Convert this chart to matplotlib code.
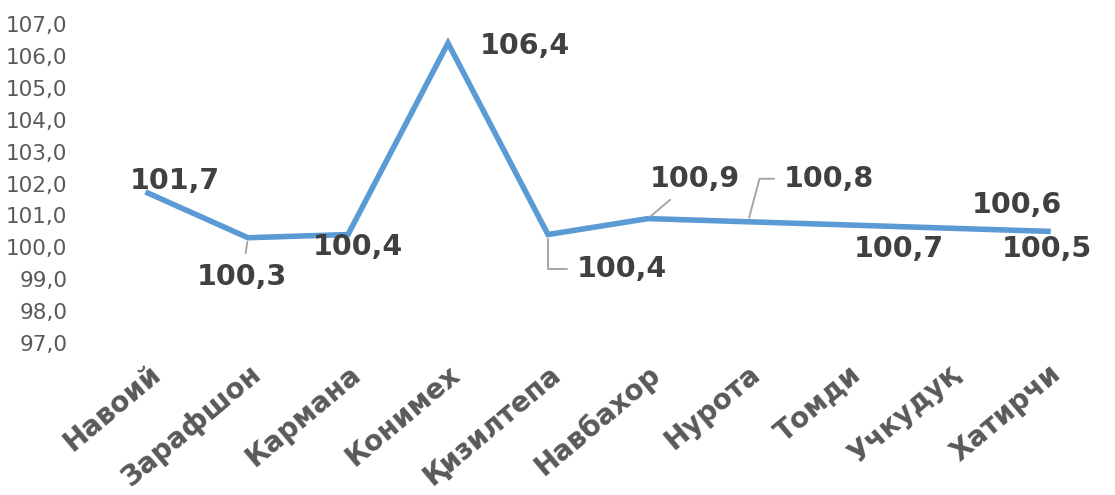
import matplotlib
matplotlib.use("Agg")
import matplotlib.pyplot as plt

# districts and index values
districts = ["Навоий", "Зарафшон", "Кармана", "Конимех", "Қизилтепа",
             "Навбахор", "Нурота", "Томди", "Учкудуқ", "Хатирчи"]
values = [101.7, 100.3, 100.4, 106.4, 100.4, 100.9, 100.8, 100.7, 100.6, 100.5]
yticks = [97.0, 98.0, 99.0, 100.0, 101.0, 102.0, 103.0, 104.0, 105.0, 106.0, 107.0]

# label offsets in pixels (dx, dy) and leader style
label_pos = [(27, 12), (-6, -39), (10, -12), (77, -3), (74, -34),
             (47, 40), (81, 43), (51, -24), (69, 23), (-1, -18)]
leaders = {1: "arc3", 4: "angle,angleA=0,angleB=90,rad=0",
           5: "arc3", 6: "angle,angleA=0,angleB=75,rad=0"}

plt.rcParams['font.family'] = ['DejaVu Sans']

fig = plt.figure(figsize=(11.15, 4.95), dpi=100)
ax = fig.add_axes([98/1115, 1-343/495, 1000/1115, 319/495])

x = list(range(len(districts)))
ax.plot(x, values, color="#5B9BD5", lw=4, solid_joinstyle="miter")

for i, v in enumerate(values):
    dx, dy = label_pos[i]
    arrow = None
    if i in leaders:
        arrow = dict(arrowstyle="-", color="#A6A6A6", lw=1.4,
                     connectionstyle=leaders[i], shrinkA=5, shrinkB=3)
    ax.annotate(f"{v:.1f}".replace(".", ","), (i, v), xytext=(dx, dy),
                textcoords="offset pixels", ha="center", va="center",
                fontsize=20.5, fontweight="bold", color="#404040",
                arrowprops=arrow)

ax.set_xlim(-0.5, len(districts) - 0.5)
ax.set_ylim(97, 107)
ax.set_yticks(yticks)
ax.set_yticklabels([f"{t:.1f}".replace(".", ",") for t in yticks],
                   fontsize=15.5, color="#595959")
ax.set_xticks(x)
ax.set_xticklabels(districts, rotation=40, ha="right", va="top",
                   rotation_mode="anchor", fontsize=20, fontweight="bold",
                   color="#595959")
ax.tick_params(axis="both", length=0)
ax.tick_params(axis="x", pad=12)
ax.tick_params(axis="y", pad=22)
for s in ax.spines.values():
    s.set_visible(False)

fig.savefig("out.png", dpi=100)
